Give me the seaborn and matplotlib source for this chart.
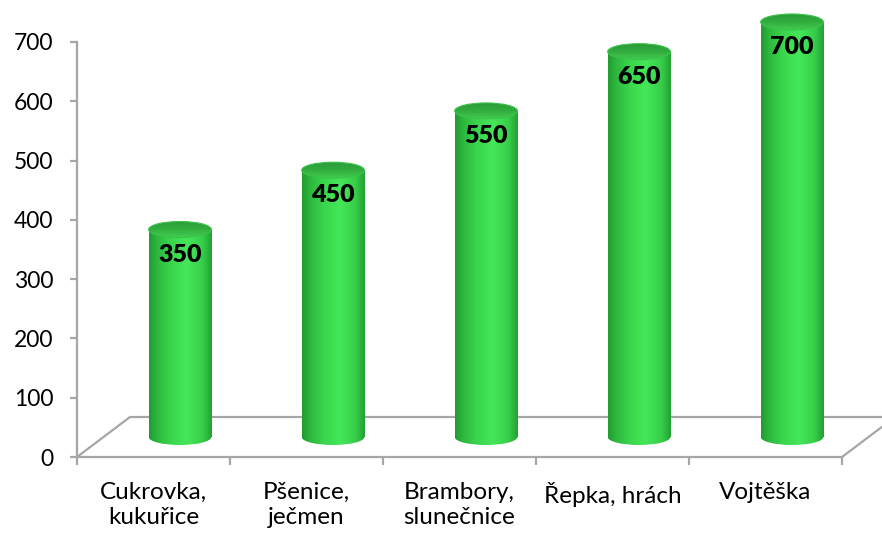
import numpy as np
import pandas as pd
import matplotlib
matplotlib.use("Agg")
import matplotlib.pyplot as plt
import matplotlib.transforms as mtransforms
from matplotlib.patches import Ellipse
from matplotlib.colors import LinearSegmentedColormap
import seaborn as sns

# ---- data ----
categories = ["Cukrovka,\nkukuřice", "Pšenice,\nječmen", "Brambory,\nslunečnice",
              "Řepka, hrách", "Vojtěška"]
values = [350, 450, 550, 650, 700]
y_ticks = [0, 100, 200, 300, 400, 500, 600, 700]
value_labels = ["350", "450", "550", "650", "700"]

W, H, DPI = 882, 535, 100
sns.set_theme(style="white")
plt.rcParams['font.family'] = ['Lato', 'DejaVu Sans']

fig = plt.figure(figsize=(W / DPI, H / DPI), dpi=DPI)
ax = fig.add_axes([77 / W, (H - 457) / H, (842 - 77) / W, (457 - 42) / H])

df = pd.DataFrame({"cat": categories, "val": values})
sns.barplot(data=df, x="cat", y="val", ax=ax, width=0.41, color="#3ddc50",
            saturation=1)

ax.set_xlim(-0.5, len(categories) - 0.5)
ax.set_ylim(0, 700)

# 3D depth offsets (half depth for bars, full depth for floor back edge)
half = mtransforms.ScaledTranslation(0.265, 0.20, fig.dpi_scale_trans)
full = mtransforms.ScaledTranslation(0.53, 0.40, fig.dpi_scale_trans)
t_half = ax.transData + half
t_full = ax.transData + full

body_cmap = LinearSegmentedColormap.from_list(
    "cyl", [(0.0, "#229a31"), (0.12, "#2db63d"), (0.35, "#3ad64d"),
            (0.6, "#45e759"), (0.85, "#37ce49"), (1.0, "#23a033")])
top_cmap = LinearSegmentedColormap.from_list(
    "cyltop", [(0.0, "#42cc51"), (0.5, "#32ad3f"), (1.0, "#2b9c37")])

grad = np.linspace(0, 1, 256).reshape(1, -1)
vgrad = np.linspace(0, 1, 64).reshape(-1, 1)

# pixel -> data conversions
bb = ax.get_window_extent()
px_per_unit = bb.height / 700.0
ell_h = 16 / px_per_unit


def clip_to(img, patch):
    img.set_clip_path(patch)
    img.set_clip_box(fig.bbox)
    img.set_clip_path(patch)


bars = list(ax.patches)
for i, p in enumerate(bars):
    x0, w, v = p.get_x(), p.get_width(), p.get_height()
    p.set_transform(t_half)
    p.set_facecolor("none")
    p.set_edgecolor("none")
    p.set_clip_on(False)
    # body gradient
    im = ax.imshow(grad, extent=(x0, x0 + w, 0, v), aspect="auto", cmap=body_cmap,
                   transform=t_half, zorder=2, interpolation="bilinear")
    im.set_clip_path(p)
    # bottom ellipse
    eb = Ellipse((x0 + w / 2, 0), w, ell_h, transform=t_half, facecolor="none",
                 edgecolor="none", clip_on=False)
    ax.add_patch(eb)
    im2 = ax.imshow(grad, extent=(x0, x0 + w, -ell_h, ell_h), aspect="auto",
                    cmap=body_cmap, transform=t_half, zorder=2,
                    interpolation="bilinear")
    clip_to(im2, eb)
    # top ellipse
    et = Ellipse((x0 + w / 2, v), w, ell_h, transform=t_half, facecolor="none",
                 edgecolor="none", clip_on=False)
    ax.add_patch(et)
    im3 = ax.imshow(vgrad, extent=(x0, x0 + w, v - ell_h / 2, v + ell_h / 2),
                    aspect="auto", cmap=top_cmap, transform=t_half, zorder=3,
                    interpolation="bilinear", origin="lower")
    clip_to(im3, et)
    ax.add_patch(Ellipse((x0 + w / 2, v), w, ell_h, transform=t_half,
                         facecolor="none", edgecolor="#3cc24c", lw=0.8,
                         clip_on=False, zorder=3.1))
    ax.annotate(value_labels[i], xy=(x0 + w / 2, v), xycoords=t_half,
                xytext=(0, -25), textcoords="offset pixels", ha="center",
                va="center", fontsize=18, fontweight="heavy", color="black",
                zorder=5, annotation_clip=False)

# floor lines
grey = "#a6a6a6"
n = len(categories)
ax.plot([-0.5, n - 0.5], [0, 0], color=grey, lw=1.6, transform=t_full,
        clip_on=False, zorder=0.5, solid_capstyle="butt")
px_per_cat = bb.width / n
dxd = 53 / px_per_cat
dyd = 40 / px_per_unit
ax.plot([-0.5, -0.5 + dxd], [0, dyd], color=grey, lw=1.6, clip_on=False, zorder=0.5)
ax.plot([n - 0.5, n - 0.5 + dxd], [0, dyd], color=grey, lw=1.6, clip_on=False,
        zorder=0.5)

# axes styling
for s in ["top", "right"]:
    ax.spines[s].set_visible(False)
for s in ["left", "bottom"]:
    ax.spines[s].set_color(grey)
    ax.spines[s].set_linewidth(1.6)

ax.set_yticks(y_ticks)
ax.set_yticklabels([str(t) for t in y_ticks])
ax.tick_params(axis="y", direction="out", length=5, width=1.6, color=grey,
               labelsize=16.5, labelcolor="black", pad=12, left=True)
ax.set_xticks(range(n))
ax.set_xticklabels(categories, linespacing=1.25)
ax.set_xticks(np.arange(-0.5, n, 1.0), minor=True)
ax.tick_params(axis="x", which="major", length=0, labelsize=17.5,
               labelcolor="black", pad=18)
ax.tick_params(axis="x", which="minor", direction="out", length=6, width=1.6,
               color=grey, bottom=True)
ax.set_xlabel("")
ax.set_ylabel("")
ax.set_xlim(-0.5, n - 0.5)
ax.set_ylim(0, 700)
ax.set_facecolor("white")
fig.patch.set_facecolor("white")

fig.savefig("out.png", dpi=DPI)
